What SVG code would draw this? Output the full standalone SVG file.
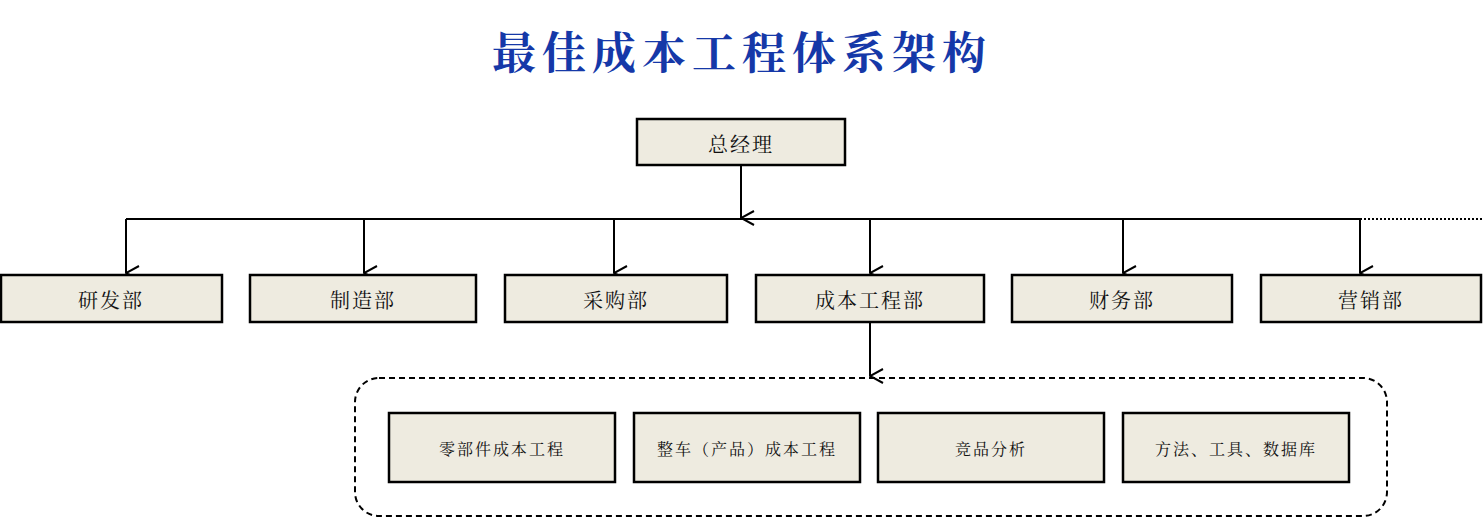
<svg xmlns="http://www.w3.org/2000/svg" width="1483" height="517" viewBox="0 0 1483 517">
<style>
.b{fill:#eeebe0;stroke:#000;stroke-width:2.5}
.t{font-family:"Noto Serif CJK SC","Noto Sans CJK SC",serif;fill:#111;text-anchor:middle;dominant-baseline:central}
.m{font-size:20px;letter-spacing:2px}
.s{font-size:16px;letter-spacing:2px}
.c{stroke:#000;stroke-width:2;fill:none}
</style>
<defs><marker id="a" markerWidth="16" markerHeight="16" refX="8" refY="15" orient="auto" markerUnits="userSpaceOnUse" viewBox="0 0 16 16"><path d="M1,2 L8,15 L15,2" fill="none" stroke="#000" stroke-width="2"/></marker></defs>
<rect width="1483" height="517" fill="#fff"/>
<text x="742" y="50" class="t" style="font-size:44px;font-weight:bold;fill:#1538a8;letter-spacing:6px">最佳成本工程体系架构</text>
<g id="connectors">
<path class="c" d="M741,165 V218" marker-end="url(#a)"/>
<path class="c" d="M126,219 H1360"/>
<path d="M1360,219 H1483" stroke="#000" stroke-width="2" stroke-dasharray="2,2"/>
<path class="c" d="M126,219 V273" marker-end="url(#a)"/>
<path class="c" d="M364,219 V273" marker-end="url(#a)"/>
<path class="c" d="M614,219 V273" marker-end="url(#a)"/>
<path class="c" d="M870,219 V273" marker-end="url(#a)"/>
<path class="c" d="M1123,219 V273" marker-end="url(#a)"/>
<path class="c" d="M1360,219 V273" marker-end="url(#a)"/>
<path class="c" d="M870,322 V376" marker-end="url(#a)"/>
</g>
<g id="gm"><rect class="b" x="637" y="119" width="208" height="46"/><text class="t m" x="741" y="143">总经理</text></g>
<g id="rd"><rect class="b" x="1" y="275" width="221" height="47"/><text class="t m" x="111" y="299">研发部</text></g>
<g id="mf"><rect class="b" x="250" y="275" width="226" height="47"/><text class="t m" x="363" y="299">制造部</text></g>
<g id="pu"><rect class="b" x="505" y="275" width="222" height="47"/><text class="t m" x="616" y="299">采购部</text></g>
<g id="ce"><rect class="b" x="756" y="275" width="228" height="47"/><text class="t m" x="870" y="299">成本工程部</text></g>
<g id="fi"><rect class="b" x="1012" y="275" width="220" height="47"/><text class="t m" x="1122" y="299">财务部</text></g>
<g id="mk"><rect class="b" x="1261" y="275" width="220" height="47"/><text class="t m" x="1371" y="299">营销部</text></g>
<g id="group"><rect x="355" y="378" width="1032" height="138" rx="24" fill="none" stroke="#000" stroke-width="2" stroke-dasharray="6,4"/></g>
<g id="n1"><rect class="b" x="389" y="413" width="226" height="69"/><text class="t s" x="502" y="448">零部件成本工程</text></g>
<g id="n2"><rect class="b" x="634" y="413" width="226" height="69"/><text class="t s" x="747" y="448">整车（产品）成本工程</text></g>
<g id="n3"><rect class="b" x="878" y="413" width="226" height="69"/><text class="t s" x="991" y="448">竞品分析</text></g>
<g id="n4"><rect class="b" x="1123" y="413" width="226" height="69"/><text class="t s" x="1236" y="448">方法、工具、数据库</text></g>
</svg>
